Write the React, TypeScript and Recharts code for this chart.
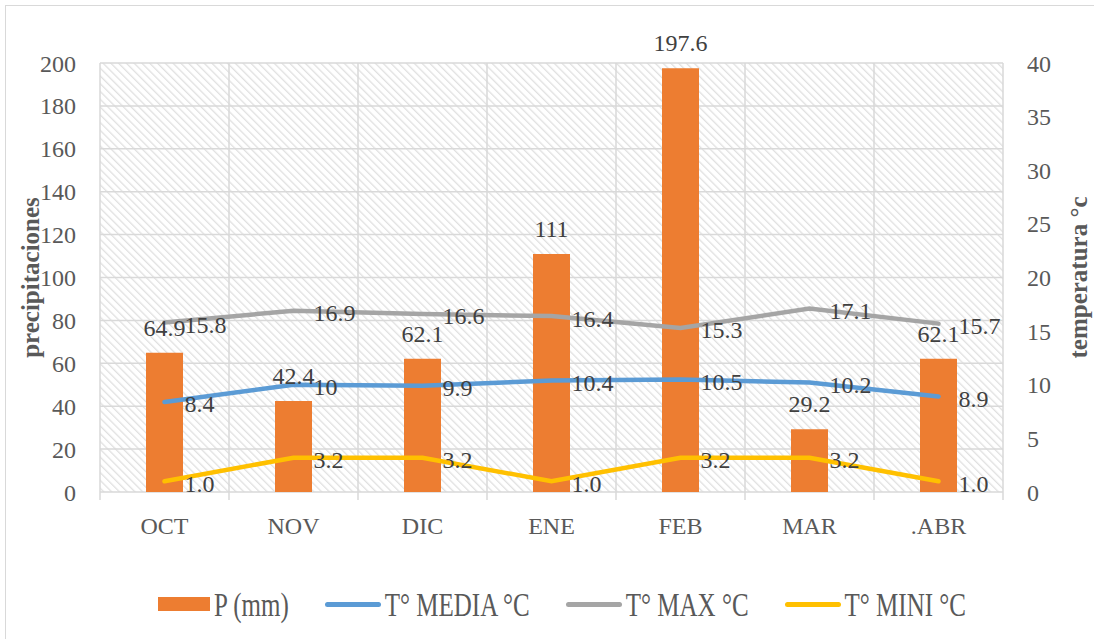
import React from 'react';
import { ComposedChart, Bar, Line, XAxis, YAxis, CartesianGrid, LabelList, Legend } from 'recharts';

const months = ['OCT', 'NOV', 'DIC', 'ENE', 'FEB', 'MAR', '.ABR'];
const precip = [64.9, 42.4, 62.1, 111, 197.6, 29.2, 62.1];
const tMedia = [8.4, 10, 9.9, 10.4, 10.5, 10.2, 8.9];
const tMax = [15.8, 16.9, 16.6, 16.4, 15.3, 17.1, 15.7];
const tMin = [1.0, 3.2, 3.2, 1.0, 3.2, 3.2, 1.0];
const leftTicks = [0, 20, 40, 60, 80, 100, 120, 140, 160, 180, 200];
const rightTicks = [0, 5, 10, 15, 20, 25, 30, 35, 40];

const series = [
  { key: 'p', name: 'P (mm)', color: '#ED7D31', kind: 'rect' },
  { key: 'media', name: 'T° MEDIA °C', color: '#5B9BD5', kind: 'line' },
  { key: 'max', name: 'T° MAX °C', color: '#A5A5A5', kind: 'line' },
  { key: 'min', name: 'T° MINI °C', color: '#FFC000', kind: 'line' },
];

const data = months.map((m, i) => ({
  month: m,
  p: precip[i],
  media: tMedia[i],
  max: tMax[i],
  min: tMin[i],
}));

const TXT = '#595959';
const LBL = '#404040';
const GRID = '#d9d9d9';
const X_TICK_MARGIN = 25;

const AxisTitle = (props: any) => {
  const vb = props.viewBox || { y: 63, height: 429 };
  const y = vb.y + vb.height / 2;
  const cx = props.cx;
  return (
    <text
      x={cx}
      y={y}
      transform={`rotate(-90 ${cx} ${y})`}
      textAnchor="middle"
      dominantBaseline="central"
      fill={TXT}
      fontWeight="bold"
      fontSize={25}
    >
      {props.value}
    </text>
  );
};

// category boundaries derived from the plot box, one per month edge
const boundaryLines = ({ offset }: any) => {
  const n = months.length;
  const out: number[] = [];
  for (let i = 0; i <= n; i++) out.push(offset.left + (offset.width * i) / n);
  return out;
};

const CatTick = (props: any) => {
  const { x, y, payload, index } = props;
  const half = payload && typeof payload.offset === 'number' ? payload.offset : 0;
  const axisY = y - X_TICK_MARGIN;
  return (
    <g>
      {half > 0 && (
        <line x1={x - half} x2={x - half} y1={axisY} y2={axisY + 8} stroke={GRID} strokeWidth={1.5} />
      )}
      {half > 0 && index === months.length - 1 && (
        <line x1={x + half} x2={x + half} y1={axisY} y2={axisY + 8} stroke={GRID} strokeWidth={1.5} />
      )}
      <text x={x} y={y} dy="0.71em" textAnchor="middle" fill={TXT} fontSize={24}>
        {payload.value}
      </text>
    </g>
  );
};

const LegendContent = () => (
  <div style={{ display: 'flex', alignItems: 'center', paddingLeft: 158, height: 30 }}>
    {series.map((s) => (
      <div key={s.key} style={{ display: 'flex', alignItems: 'center', marginRight: 36 }}>
        {s.kind === 'rect' ? (
          <div style={{ width: 52, height: 14, background: s.color }} />
        ) : (
          <div style={{ width: 56, height: 5, borderRadius: 3, background: s.color }} />
        )}
        <span
          style={{
            display: 'inline-block',
            marginLeft: 4,
            fontSize: 25,
            color: TXT,
            transform: 'scaleY(1.35)',
            lineHeight: '25px',
            whiteSpace: 'nowrap',
          }}
        >
          {s.name}
        </span>
      </div>
    ))}
  </div>
);

export default function App() {
  return (
    <div
      style={{
        position: 'absolute',
        left: 0,
        top: 0,
        width: 1094,
        height: 639,
        overflow: 'hidden',
        background: '#fff',
        fontFamily: '"Liberation Serif", serif',
      }}
    >
      <svg width={0} height={0} style={{ position: 'absolute' }}>
        <defs>
          <pattern id="hatch" patternUnits="userSpaceOnUse" width={5.5} height={5.5} patternTransform="rotate(-45)">
            <rect x={0} y={0} width={5.5} height={5.5} fill="#ffffff" />
            <rect x={0} y={0} width={1.3} height={5.5} fill="#e0e0e0" />
          </pattern>
        </defs>
      </svg>
      <div
        style={{
          position: 'absolute',
          left: 5,
          top: 5,
          width: 1200,
          height: 800,
          border: '1.5px solid #d9d9d9',
        }}
      />
      <div style={{ position: 'absolute', left: 0, top: 0 }}>
        <ComposedChart
          width={1094}
          height={639}
          data={data}
          margin={{ top: 63, right: 0, bottom: 87, left: 0 }}
        >
          <XAxis
            xAxisId="c"
            dataKey="month"
            height={60}
            axisLine={false}
            tickLine={false}
            tickSize={0}
            tickMargin={X_TICK_MARGIN}
            tick={<CatTick />}
            interval={0}
          />
          <YAxis
            yAxisId="l"
            orientation="left"
            width={100}
            domain={[0, 200]}
            ticks={leftTicks}
            axisLine={false}
            tickLine={false}
            tickSize={0}
            tickMargin={24}
            tick={{ fill: TXT, fontSize: 24 }}
            interval={0}
            label={<AxisTitle value="precipitaciones" cx={30} />}
          />
          <YAxis
            yAxisId="r"
            orientation="right"
            width={91}
            domain={[0, 40]}
            ticks={rightTicks}
            axisLine={false}
            tickLine={false}
            tickSize={0}
            tickMargin={24}
            tick={{ fill: TXT, fontSize: 24 }}
            interval={0}
            label={<AxisTitle value="temperatura °c" cx={1078} />}
          />
          <CartesianGrid
            xAxisId="c"
            yAxisId="l"
            horizontalValues={leftTicks}
            verticalCoordinatesGenerator={boundaryLines}
            stroke={GRID}
            strokeWidth={1.5}
            fill="url(#hatch)"
            fillOpacity={1}
          />
          <Bar
            xAxisId="c"
            yAxisId="l"
            dataKey="p"
            name="P (mm)"
            fill="#ED7D31"
            barSize={37}
            isAnimationActive={false}
          >
            <LabelList dataKey="p" position="top" offset={17} fill={LBL} fontSize={24} />
          </Bar>
          <Line
            xAxisId="c"
            yAxisId="r"
            dataKey="media"
            name="T° MEDIA °C"
            stroke="#5B9BD5"
            strokeWidth={4.5}
            strokeLinecap="round"
            dot={false}
            isAnimationActive={false}
          >
            <LabelList dataKey="media" position="right" offset={20} fill={LBL} fontSize={24} dy={2} />
          </Line>
          <Line
            xAxisId="c"
            yAxisId="r"
            dataKey="max"
            name="T° MAX °C"
            stroke="#A5A5A5"
            strokeWidth={4.5}
            strokeLinecap="round"
            dot={false}
            isAnimationActive={false}
          >
            <LabelList dataKey="max" position="right" offset={20} fill={LBL} fontSize={24} dy={2} />
          </Line>
          <Line
            xAxisId="c"
            yAxisId="r"
            dataKey="min"
            name="T° MINI °C"
            stroke="#FFC000"
            strokeWidth={4.5}
            strokeLinecap="round"
            dot={false}
            isAnimationActive={false}
          >
            <LabelList
              dataKey="min"
              position="right"
              offset={20}
              fill={LBL}
              fontSize={24}
              dy={2}
              formatter={(v: any) => Number(v).toFixed(1)}
            />
          </Line>
          <Legend
            verticalAlign="middle"
            align="center"
            content={<LegendContent />}
            wrapperStyle={{ top: 589, left: 0, width: 1094, height: 30 }}
          />
        </ComposedChart>
      </div>
    </div>
  );
}
